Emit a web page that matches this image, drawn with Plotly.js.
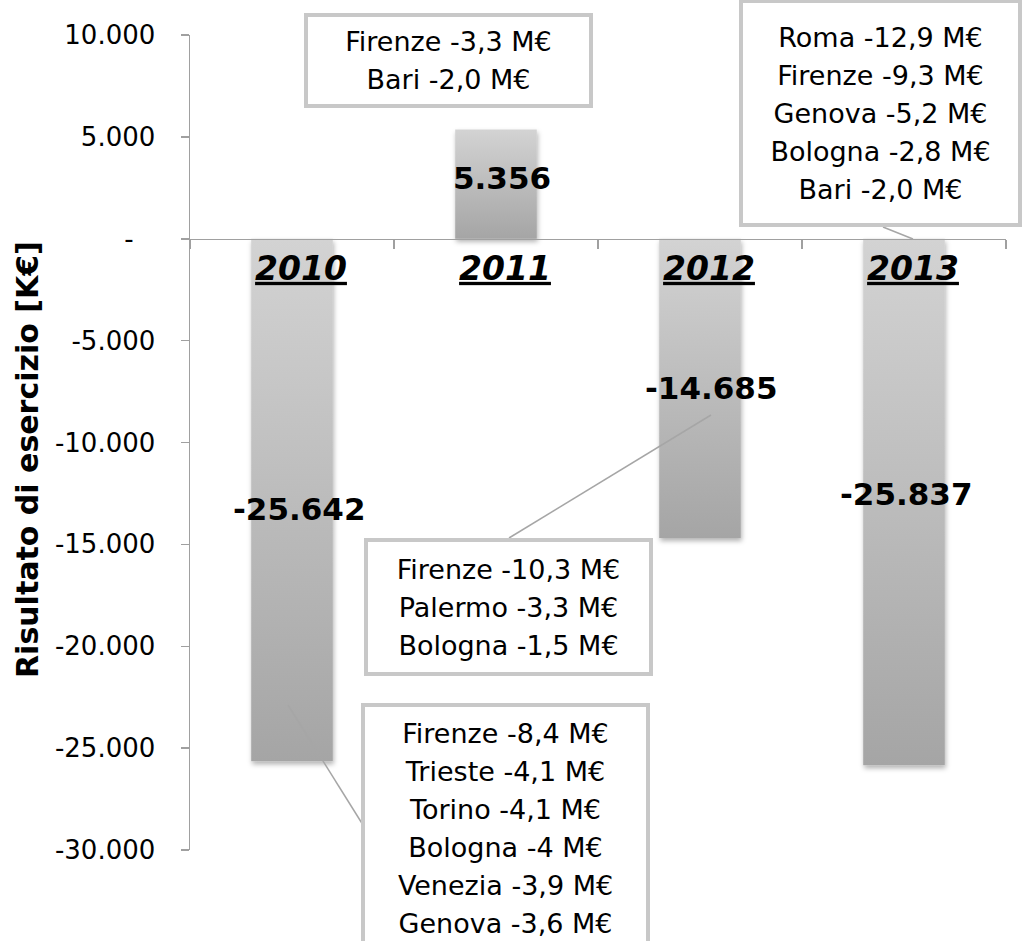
<!DOCTYPE html>
<html>
<head>
<meta charset="utf-8">
<script src="https://cdn.plot.ly/plotly-3.0.1.min.js"></script>
<style>
  html, body { margin: 0; padding: 0; background: #fff; }
  #chart { width: 1024px; height: 941px; }
</style>
</head>
<body>
<div id="chart"></div>
<script>
// ---------------- DATA ----------------
const years = ['2010', '2011', '2012', '2013'];
const results = [-25642, 5356, -14685, -25837];   // K€
const tickVals = [10000, 5000, 0, -5000, -10000, -15000, -20000, -25000, -30000];
const tickText = ['10.000', '5.000', '-\u00A0\u00A0\u2009', '-5.000', '-10.000', '-15.000', '-20.000', '-25.000', '-30.000'];
const yTitle = 'Risultato di esercizio [K€]';
const notes2010 = ['Firenze -8,4 M€', 'Trieste -4,1 M€', 'Torino -4,1 M€', 'Bologna -4 M€', 'Venezia -3,9 M€', 'Genova -3,6 M€'];
const notes2011 = ['Firenze -3,3 M€', 'Bari -2,0 M€'];
const notes2012 = ['Firenze -10,3 M€', 'Palermo -3,3 M€', 'Bologna -1,5 M€'];
const notes2013 = ['Roma -12,9 M€', 'Firenze -9,3 M€', 'Genova -5,2 M€', 'Bologna -2,8 M€', 'Bari -2,0 M€'];

// ---------------- LAYOUT HELPERS ----------------
const FONT = 'DejaVu Sans, Verdana, sans-serif';
const yMin = -30000, yMax = 10000;
const W = 1024, H = 941;
const M = { l: 190, r: 18, t: 35, b: 91 };
const plotW = W - M.l - M.r, plotH = H - M.t - M.b;
function xd(px) { return (px - M.l) / (plotW / years.length) - 0.5; }
function yd(py) { return yMax - (py - M.t) / plotH * (yMax - yMin); }
function fmt(v) {
  const s = Math.abs(v).toString().replace(/\B(?=(\d{3})+(?!\d))/g, '.');
  return (v < 0 ? '-' : '') + s;
}

// pixel placement of the value labels (one per year)
const valueLabelPx = [[299, 509], [502, 178], [711, 388], [906, 494]];
// callout boxes: outer edges in pixels, plus optional leader line
const callouts = [
  { notes: notes2010, l: 361, t: 703, r: 650, b: 953, leader: [363, 825, 288, 705] },
  { notes: notes2011, l: 304, t: 13, r: 593, b: 108, leader: null },
  { notes: notes2012, l: 364, t: 538, r: 653, b: 676, leader: [509, 538, 711, 415] },
  { notes: notes2013, l: 739, t: -1, r: 1022, b: 227, leader: [883, 227, 913, 239] }
];

const LINE_GAP = 38;       // pixel distance between lines in callouts
const NOTE_SIZE = 27;
const BW = 4;              // callout border width

const annotations = [];
const shapes = [];

// y-axis title (placed as rotated annotation)
annotations.push({
  xref: 'paper', yref: 'paper',
  x: (27 - M.l) / plotW, y: (M.t + plotH - 460) / plotH,
  xanchor: 'center', yanchor: 'middle', textangle: -90,
  text: '<b>' + yTitle + '</b>', showarrow: false,
  font: { family: FONT, size: 30, color: '#000' }
});

results.forEach((v, i) => {
  const p = valueLabelPx[i];
  annotations.push({
    x: xd(p[0]), y: yd(p[1]), xref: 'x', yref: 'y',
    text: '<b>' + fmt(v) + '</b>', showarrow: false,
    font: { family: FONT, size: 31, color: '#000' },
    xanchor: 'center', yanchor: 'middle'
  });
});

callouts.forEach(c => {
  if (c.leader) {
    shapes.push({
      type: 'line', xref: 'x', yref: 'y', layer: 'above',
      x0: xd(c.leader[0]), y0: yd(c.leader[1]), x1: xd(c.leader[2]), y1: yd(c.leader[3]),
      line: { color: '#a6a6a6', width: 1.5 }
    });
  }
  annotations.push({
    x: xd((c.l + c.r) / 2), y: yd((c.t + c.b) / 2), xref: 'x', yref: 'y',
    xanchor: 'center', yanchor: 'middle',
    text: c.notes.map(s => '<span style="font-size:' + NOTE_SIZE + 'px">' + s + '</span>').join('<br>'),
    showarrow: false,
    font: { family: FONT, size: LINE_GAP / 1.3, color: '#000' },
    bgcolor: '#ffffff', bordercolor: '#c8c8c8', borderwidth: BW, borderpad: 0,
    width: (c.r - c.l) - 2 * BW, height: (c.b - c.t) - 2 * BW,
    align: 'center', valign: 'middle'
  });
});

const trace = {
  type: 'bar',
  x: years,
  y: results,
  marker: { color: '#bdbdbd', line: { width: 0 } },
  hoverinfo: 'none'
};

const layout = {
  width: W, height: H,
  margin: M,
  paper_bgcolor: '#fff', plot_bgcolor: 'rgba(0,0,0,0)',
  showlegend: false,
  bargap: 0.6,
  font: { family: FONT, color: '#000' },
  xaxis: {
    type: 'category', range: [-0.5, 3.5],
    anchor: 'free', position: (0 - yMin) / (yMax - yMin),
    showline: true, linecolor: '#a0a0a0', linewidth: 1.5,
    ticks: 'outside', tickson: 'boundaries', ticklen: 9, tickcolor: '#a0a0a0', tickwidth: 1.5,
    tickmode: 'array', tickvals: years,
    ticktext: years.map(y => '<b><i><u>' + y + '</u></i></b>'),
    tickfont: { family: FONT, size: 33, color: '#000' },
    ticklabelshift: 9,
    showgrid: false, zeroline: false, fixedrange: true
  },
  yaxis: {
    range: [yMin, yMax],
    showline: true, linecolor: '#a0a0a0', linewidth: 1.5,
    ticks: 'outside', ticklen: 8, tickcolor: '#a0a0a0', tickwidth: 1.5,
    tickmode: 'array', tickvals: tickVals, ticktext: tickText,
    tickfont: { family: FONT, size: 26, color: '#000' },
    ticklabelstandoff: 20,
    showgrid: false, zeroline: false, fixedrange: true,
    automargin: false
  },
  annotations: annotations,
  shapes: shapes
};

Plotly.newPlot('chart', [trace], layout, { displayModeBar: false, staticPlot: true }).then(gd => {
  const svg = gd.querySelector('svg.main-svg');
  const ns = 'http://www.w3.org/2000/svg';
  let defs = svg.querySelector('defs');
  if (!defs) { defs = document.createElementNS(ns, 'defs'); svg.insertBefore(defs, svg.firstChild); }
  const grad = document.createElementNS(ns, 'linearGradient');
  grad.setAttribute('id', 'barGrad');
  grad.setAttribute('x1', '0'); grad.setAttribute('y1', '0');
  grad.setAttribute('x2', '0'); grad.setAttribute('y2', '1');
  [['0', '#d3d3d3'], ['1', '#a5a5a5']].forEach(s => {
    const st = document.createElementNS(ns, 'stop');
    st.setAttribute('offset', s[0]); st.setAttribute('stop-color', s[1]);
    grad.appendChild(st);
  });
  defs.appendChild(grad);
  const filt = document.createElementNS(ns, 'filter');
  filt.setAttribute('id', 'barShadow');
  filt.setAttribute('x', '-20%'); filt.setAttribute('y', '-20%');
  filt.setAttribute('width', '140%'); filt.setAttribute('height', '140%');
  const ds = document.createElementNS(ns, 'feDropShadow');
  ds.setAttribute('dx', '1'); ds.setAttribute('dy', '3');
  ds.setAttribute('stdDeviation', '2.5'); ds.setAttribute('flood-color', '#000');
  ds.setAttribute('flood-opacity', '0.3');
  filt.appendChild(ds);
  defs.appendChild(filt);
  gd.querySelectorAll('.barlayer .point path').forEach(p => {
    p.style.fill = 'url(#barGrad)';
    p.style.filter = 'url(#barShadow)';
  });
});
</script>
</body>
</html>
